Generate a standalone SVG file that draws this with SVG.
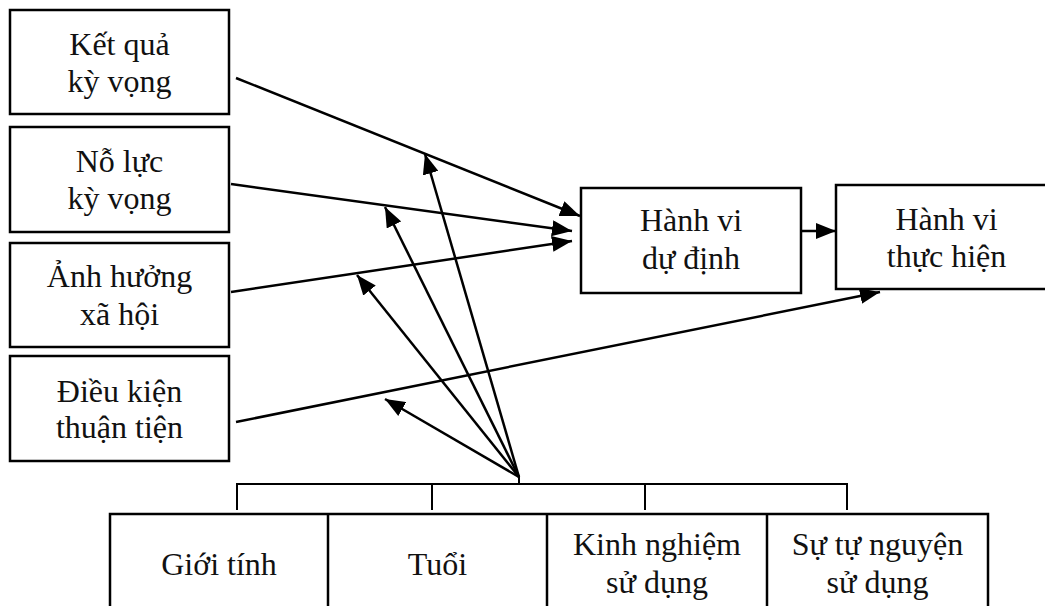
<svg xmlns="http://www.w3.org/2000/svg" width="1045" height="606" viewBox="0 0 1045 606">
  <style>
    .box { fill: #fff; stroke: #000; stroke-width: 2.5; }
    .lbl { font-family: "Liberation Serif", "Times New Roman", "DejaVu Serif", serif; font-size: 32px; fill: #111; text-anchor: middle; }
    .edge { stroke: #000; stroke-width: 2.5; fill: none; }
    .thin { stroke: #000; stroke-width: 2; fill: none; }
  </style>
  <defs>
    <marker id="arrow" markerUnits="userSpaceOnUse" markerWidth="21" markerHeight="16" refX="20" refY="8" orient="auto">
      <path d="M0,0 L20,8 L0,16 Z" fill="#000"/>
    </marker>
  </defs>
  <rect width="1045" height="606" fill="#fff"/>

  <!-- left-hand factor boxes -->
  <g id="ket-qua-ky-vong">
    <rect class="box" x="10" y="10" width="219" height="104"/>
    <text class="lbl" x="119.5" y="55">Kết quả</text>
    <text class="lbl" x="119.5" y="92">kỳ vọng</text>
  </g>
  <g id="no-luc-ky-vong">
    <rect class="box" x="10" y="127" width="219" height="105"/>
    <text class="lbl" x="119.5" y="172">Nỗ lực</text>
    <text class="lbl" x="119.5" y="209">kỳ vọng</text>
  </g>
  <g id="anh-huong-xa-hoi">
    <rect class="box" x="10" y="243" width="219" height="104"/>
    <text class="lbl" x="119.5" y="287">Ảnh hưởng</text>
    <text class="lbl" x="119.5" y="325">xã hội</text>
  </g>
  <g id="dieu-kien-thuan-tien">
    <rect class="box" x="10" y="356" width="219" height="105"/>
    <text class="lbl" x="119.5" y="402">Điều kiện</text>
    <text class="lbl" x="119.5" y="438">thuận tiện</text>
  </g>

  <!-- outcome boxes -->
  <g id="hanh-vi-du-dinh">
    <rect class="box" x="581" y="188" width="220" height="105"/>
    <text class="lbl" x="691" y="231">Hành vi</text>
    <text class="lbl" x="691" y="269">dự định</text>
  </g>
  <g id="hanh-vi-thuc-hien">
    <rect class="box" x="836" y="185" width="221" height="104"/>
    <text class="lbl" x="946.5" y="230">Hành vi</text>
    <text class="lbl" x="946.5" y="267">thực hiện</text>
  </g>

  <!-- moderator row -->
  <g id="moderators">
    <rect class="box" x="110" y="514" width="878" height="110"/>
    <line class="edge" x1="328" y1="514" x2="328" y2="606"/>
    <line class="edge" x1="547" y1="514" x2="547" y2="606"/>
    <line class="edge" x1="767" y1="514" x2="767" y2="606"/>
  </g>
  <g id="gioi-tinh">
    <text class="lbl" x="219" y="575">Giới tính</text>
  </g>
  <g id="tuoi">
    <text class="lbl" x="437.5" y="575">Tuổi</text>
  </g>
  <g id="kinh-nghiem-su-dung">
    <text class="lbl" x="657" y="555">Kinh nghiệm</text>
    <text class="lbl" x="657" y="593">sử dụng</text>
  </g>
  <g id="su-tu-nguyen-su-dung">
    <text class="lbl" x="877.5" y="555">Sự tự nguyện</text>
    <text class="lbl" x="877.5" y="593">sử dụng</text>
  </g>

  <!-- connectors -->
  <g id="connectors">
    <!-- bracket joining the moderators -->
    <polyline class="thin" points="237,510 237,484 847,484 847,510"/>
    <line class="thin" x1="432" y1="484" x2="432" y2="510"/>
    <line class="thin" x1="645" y1="484" x2="645" y2="510"/>
    <line class="thin" x1="519" y1="484" x2="519" y2="477"/>

    <!-- direct effects -->
    <line class="edge" x1="236" y1="78" x2="580" y2="216" marker-end="url(#arrow)"/>
    <line class="edge" x1="231" y1="184" x2="572" y2="231" marker-end="url(#arrow)"/>
    <line class="edge" x1="231" y1="292" x2="572" y2="241" marker-end="url(#arrow)"/>
    <line class="edge" x1="801" y1="231" x2="836" y2="231" marker-end="url(#arrow)"/>
    <line class="edge" x1="236" y1="422" x2="880" y2="292" marker-end="url(#arrow)"/>

    <!-- moderating effects -->
    <line class="edge" x1="519" y1="477" x2="425" y2="154" marker-end="url(#arrow)"/>
    <line class="edge" x1="519" y1="477" x2="385" y2="207" marker-end="url(#arrow)"/>
    <line class="edge" x1="519" y1="477" x2="357" y2="275" marker-end="url(#arrow)"/>
    <line class="edge" x1="519" y1="477" x2="385" y2="399" marker-end="url(#arrow)"/>
  </g>
</svg>
